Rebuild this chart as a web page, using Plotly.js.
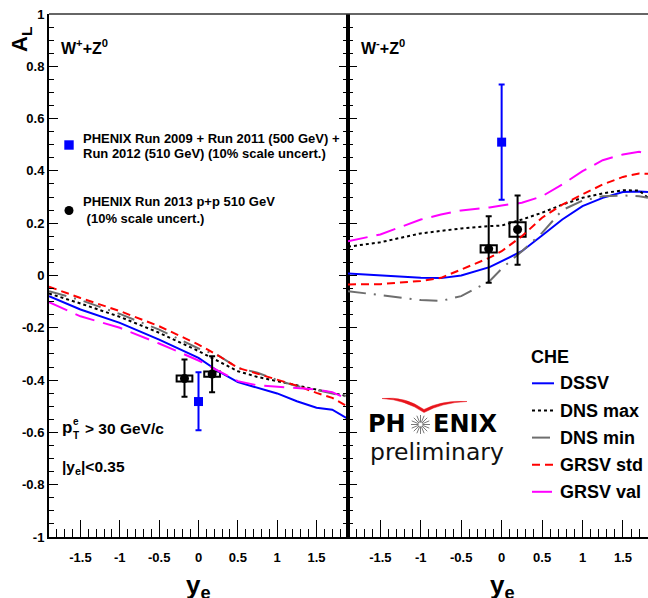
<!DOCTYPE html>
<html>
<head>
<meta charset="utf-8">
<script src="https://cdn.plot.ly/plotly-3.0.1.min.js"></script>
<style>
html,body{margin:0;padding:0;background:#fff;}
#chart{width:648px;height:598px;}
</style>
</head>
<body>
<div id="chart"></div>
<script>
// ---------- DATA ----------
const xTickVals = [-1.5, -1, -0.5, 0, 0.5, 1, 1.5];
const xTickText = ['-1.5', '-1', '-0.5', '0', '0.5', '1', '1.5'];
const yTickVals = [-1, -0.8, -0.6, -0.4, -0.2, 0, 0.2, 0.4, 0.6, 0.8, 1];
const yTickText = ['-1', '-0.8', '-0.6', '-0.4', '-0.2', '0', '0.2', '0.4', '0.6', '0.8', '1'];

const curveNames = ['DSSV', 'DNS max', 'DNS min', 'GRSV std', 'GRSV val'];

// W+ + Z0 panel (left)
const xLeft = [-1.9, -1.5, -1.0, -0.5, 0, 0.25, 0.5, 0.75, 1.0, 1.25, 1.5, 1.7, 1.9];
const dssvLeft    = [-0.079, -0.130, -0.181, -0.245, -0.315, -0.366, -0.408, -0.430, -0.451, -0.481, -0.506, -0.513, -0.548];
const dnsMaxLeft  = [-0.069, -0.107, -0.158, -0.219, -0.289, -0.328, -0.366, -0.388, -0.404, -0.421, -0.436, -0.449, -0.462];
const dnsMinLeft  = [-0.060, -0.094, -0.147, -0.207, -0.279, -0.306, -0.353, -0.372, -0.400, -0.423, -0.438, -0.451, -0.464];
const grsvStdLeft = [-0.043, -0.086, -0.136, -0.194, -0.264, -0.306, -0.353, -0.375, -0.398, -0.421, -0.449, -0.468, -0.502];
const grsvValLeft = [-0.102, -0.156, -0.200, -0.260, -0.325, -0.366, -0.404, -0.420, -0.425, -0.431, -0.436, -0.446, -0.474];

// W- + Z0 panel (right)
const xRight = [-1.9, -1.5, -1.0, -0.75, -0.5, -0.15, 0, 0.25, 0.5, 0.75, 1.0, 1.25, 1.5, 1.7, 1.81];
const dssvRight    = [0.008, 0.001, -0.009, -0.010, 0.000, 0.032, 0.055, 0.093, 0.153, 0.214, 0.265, 0.297, 0.319, 0.321, 0.319];
const dnsMaxRight  = [0.110, 0.127, 0.161, 0.170, 0.180, 0.189, 0.191, 0.214, 0.240, 0.271, 0.297, 0.314, 0.326, 0.325, 0.297];
const dnsMinRight  = [-0.060, -0.075, -0.094, -0.097, -0.079, -0.022, 0.026, 0.093, 0.163, 0.250, 0.286, 0.303, 0.306, 0.303, 0.297];
const grsvStdRight = [-0.034, -0.033, -0.021, -0.009, 0.023, 0.068, 0.093, 0.150, 0.221, 0.271, 0.310, 0.348, 0.377, 0.390, 0.389];
const grsvValRight = [0.131, 0.157, 0.214, 0.233, 0.249, 0.260, 0.268, 0.278, 0.303, 0.348, 0.399, 0.441, 0.463, 0.473, 0.467];

// PHENIX Run 2009+2011+2012 (blue squares)
const run09XLeft = [0.0];
const run09YLeft = [-0.482];
const run09ErrHiLeft = [0.112];
const run09ErrLoLeft = [0.110];
const run09XRight = [0.0];
const run09YRight = [0.510];
const run09ErrHiRight = [0.220];
const run09ErrLoRight = [0.220];

// PHENIX Run 2013 (black circles, with systematic boxes)
const run13XLeft = [-0.178, 0.173];
const run13YLeft = [-0.394, -0.377];
const run13ErrHiLeft = [0.073, 0.068];
const run13ErrLoLeft = [0.070, 0.069];
const run13SysXLeft = [0.1, 0.1];
const run13SysYLeft = [0.0115, 0.010];
const run13XRight = [-0.16, 0.197];
const run13YRight = [0.102, 0.176];
const run13ErrHiRight = [0.125, 0.130];
const run13ErrLoRight = [0.130, 0.135];
const run13SysXRight = [0.1, 0.1];
const run13SysYRight = [0.014, 0.0275];

// ---------- STYLE ----------
const W = 648, H = 598;
const px = x => x / W;
const py = y => 1 - y / H;
const FONT = 'Liberation Sans, Arial, sans-serif';
const curveStyles = [
  {color: '#0000ff', dash: 'solid'},
  {color: '#000000', dash: '3px,3px'},
  {color: '#6e6e6e', dash: '18px,8px,2px,8px'},
  {color: '#ff0000', dash: '8px,5px'},
  {color: '#ff00ff', dash: '20px,9px'}
];
const leftCurves = [dssvLeft, dnsMaxLeft, dnsMinLeft, grsvStdLeft, grsvValLeft];
const rightCurves = [dssvRight, dnsMaxRight, dnsMinRight, grsvStdRight, grsvValRight];

const traces = [];
curveNames.forEach((name, i) => {
  traces.push({x: xLeft, y: leftCurves[i], xaxis: 'x', yaxis: 'y', type: 'scatter', mode: 'lines',
    name: name, showlegend: false, line: {color: curveStyles[i].color, dash: curveStyles[i].dash, width: 2}});
  traces.push({x: xRight, y: rightCurves[i], xaxis: 'x2', yaxis: 'y2', type: 'scatter', mode: 'lines',
    name: name, showlegend: false, line: {color: curveStyles[i].color, dash: curveStyles[i].dash, width: 2}});
});

function pointTrace(xs, ys, hi, lo, xa, ya, color, symbol, name) {
  return {x: xs, y: ys, xaxis: xa, yaxis: ya, type: 'scatter', mode: 'markers', name: name, showlegend: false,
    marker: {color: color, symbol: symbol, size: 9, line: {width: 0}},
    error_y: {type: 'data', symmetric: false, array: hi, arrayminus: lo, color: color, thickness: 2, width: 3}};
}
const run09Name = 'PHENIX Run 2009 + Run 2011 (500 GeV) + Run 2012 (510 GeV)';
const run13Name = 'PHENIX Run 2013 p+p 510 GeV';
traces.push(pointTrace(run13XLeft, run13YLeft, run13ErrHiLeft, run13ErrLoLeft, 'x', 'y', '#000000', 'circle', run13Name));
traces.push(pointTrace(run13XRight, run13YRight, run13ErrHiRight, run13ErrLoRight, 'x2', 'y2', '#000000', 'circle', run13Name));
traces.push(pointTrace(run09XLeft, run09YLeft, run09ErrHiLeft, run09ErrLoLeft, 'x', 'y', '#0000ff', 'square', run09Name));
traces.push(pointTrace(run09XRight, run09YRight, run09ErrHiRight, run09ErrLoRight, 'x2', 'y2', '#0000ff', 'square', run09Name));

const shapes = [];
function sysBoxes(xs, ys, dx, dy, xref, yref) {
  xs.forEach((x, i) => {
    shapes.push({type: 'rect', xref: xref, yref: yref, x0: x - dx[i], x1: x + dx[i], y0: ys[i] - dy[i], y1: ys[i] + dy[i],
      line: {color: '#000', width: 2}, fillcolor: 'rgba(0,0,0,0)', layer: 'below'});
  });
}
sysBoxes(run13XLeft, run13YLeft, run13SysXLeft, run13SysYLeft, 'x', 'y');
sysBoxes(run13XRight, run13YRight, run13SysXRight, run13SysYRight, 'x2', 'y2');

// top frame line
shapes.push({type: 'line', xref: 'paper', yref: 'paper', x0: px(49), x1: 1, y0: py(14), y1: py(14), line: {color: '#333', width: 1.5}});

// legend markers (left panel)
shapes.push({type: 'rect', xref: 'paper', yref: 'paper', x0: px(64.3), x1: px(73.7), y0: py(140.3), y1: py(149.7), fillcolor: '#0000ff', line: {width: 0}});
shapes.push({type: 'circle', xref: 'paper', yref: 'paper', x0: px(64.5), x1: px(73.5), y0: py(206), y1: py(215), fillcolor: '#000', line: {width: 0}});

// legend line samples (right panel)
const legY = [383.3, 410.5, 437.6, 464.7, 491.8];
curveNames.forEach((n, i) => {
  shapes.push({type: 'line', xref: 'paper', yref: 'paper', x0: px(532), x1: px(554), y0: py(legY[i]), y1: py(legY[i]),
    line: {color: curveStyles[i].color, dash: curveStyles[i].dash, width: 2}});
});

// PHENIX logo: swoosh and star
function P(x, y) { return px(x).toFixed(5) + ',' + py(y).toFixed(5); }
const swoosh = 'M ' + P(382, 398.5) + ' Q ' + P(405, 396) + ' ' + P(424, 409.5) +
  ' Q ' + P(442, 400) + ' ' + P(467, 401.5) + ' Q ' + P(442, 402.5) + ' ' + P(424, 412.5) +
  ' Q ' + P(405, 399.5) + ' ' + P(382, 398.5) + ' Z';
shapes.push({type: 'path', xref: 'paper', yref: 'paper', path: swoosh, fillcolor: '#e8141c', line: {color: '#e8141c', width: 0.5}});
let star = '';
const sc = [420.5, 424.5], nRays = 16;
for (let k = 0; k < nRays; k++) {
  const a = 2 * Math.PI * k / nRays;
  star += ' M ' + P(sc[0] + 2 * Math.cos(a), sc[1] + 2 * Math.sin(a)) + ' L ' + P(sc[0] + 9.5 * Math.cos(a), sc[1] + 9.5 * Math.sin(a));
}
shapes.push({type: 'path', xref: 'paper', yref: 'paper', path: star, line: {color: '#555', width: 0.8}});

const annotations = [];
function ann(text, x, y, size, o) {
  o = o || {};
  annotations.push(Object.assign({text: text, xref: 'paper', yref: 'paper', x: px(x), y: py(y), showarrow: false,
    xanchor: o.xanchor || 'left', yanchor: o.yanchor || 'middle',
    font: {family: o.family || FONT, size: size, color: o.color || '#000', weight: o.weight || 'bold'}}, o.extra || {}));
}
ann('A<sub>L</sub>', 21, 40, 22, {xanchor: 'center', extra: {textangle: -90}});
ann('W<sup>+</sup>+Z<sup>0</sup>', 59, 47, 16);
ann('W<sup>-</sup>+Z<sup>0</sup>', 359, 47, 16);
ann('PHENIX Run 2009 + Run 2011 (500 GeV) +', 81, 139, 13);
ann('Run 2012 (510 GeV) (10% scale uncert.)', 81, 153.5, 13);
ann('PHENIX Run 2013 p+p 510 GeV', 81, 201, 13);
ann(' (10% scale uncert.)', 81, 218, 13);
ann('p', 59.5, 427, 17);
ann('e', 71, 421.5, 10);
ann('T', 71, 435.5, 10);
ann('&gt; 30 GeV/c', 83, 428, 15.5);
ann('|y<sub>e</sub>|&lt;0.35', 60, 467, 15.5);
ann('y<sub>e</sub>', 199, 586, 26, {xanchor: 'center'});
ann('y<sub>e</sub>', 502, 586, 26, {xanchor: 'center'});
ann('CHE', 529, 357, 18);
curveNames.forEach((n, i) => ann(n, 557.5, legY[i], 18));
ann('PH', 407.5, 423.5, 24, {xanchor: 'right', family: 'DejaVu Sans'});
ann('ENIX', 431, 423.5, 24, {family: 'DejaVu Sans'});
ann('preliminary', 368, 452, 23.5, {family: 'DejaVu Sans', weight: 'normal', color: '#111'});

const tickFont = {family: FONT, size: 13, weight: 'bold', color: '#000'};
const yDom = [py(537), py(14)];
function xAxis(dom, range, anchor) {
  return {domain: dom, range: range, anchor: anchor, tickvals: xTickVals, ticktext: xTickText,
    ticks: 'inside', ticklen: 17, tickwidth: 1, tickcolor: '#000',
    minor: {dtick: 0.1, tick0: 0, ticks: 'inside', ticklen: 8, tickwidth: 1, tickcolor: '#000', showgrid: false},
    showline: true, linewidth: 2, linecolor: '#000', showgrid: false, zeroline: false,
    tickfont: tickFont, ticklabelstandoff: 7, fixedrange: true};
}
function yAxis(anchor, labels, mirror) {
  return {domain: yDom, range: [-1, 1], anchor: anchor, tickvals: yTickVals, ticktext: yTickText,
    showticklabels: labels, ticks: 'inside', ticklen: 9, tickwidth: 1, tickcolor: '#000',
    minor: {dtick: 0.05, tick0: 0, ticks: 'inside', ticklen: 5, tickwidth: 1, tickcolor: '#000', showgrid: false},
    showline: true, linewidth: 2, linecolor: '#000', mirror: mirror, showgrid: false, zeroline: false,
    tickfont: tickFont, ticklabelstandoff: 0, fixedrange: true};
}

const layout = {
  width: W, height: H, margin: {l: 0, r: 0, t: 0, b: 0},
  paper_bgcolor: '#fff', plot_bgcolor: '#fff', showlegend: false,
  xaxis: xAxis([px(49), px(348)], [-1.9, 1.9], 'y'),
  yaxis: yAxis('x', true, 'ticks'),
  xaxis2: xAxis([px(348), 1], [-1.9, 1.81], 'y2'),
  yaxis2: yAxis('x2', false, false),
  shapes: shapes, annotations: annotations
};

Plotly.newPlot('chart', traces, layout, {displayModeBar: false, staticPlot: true});
</script>
</body>
</html>
